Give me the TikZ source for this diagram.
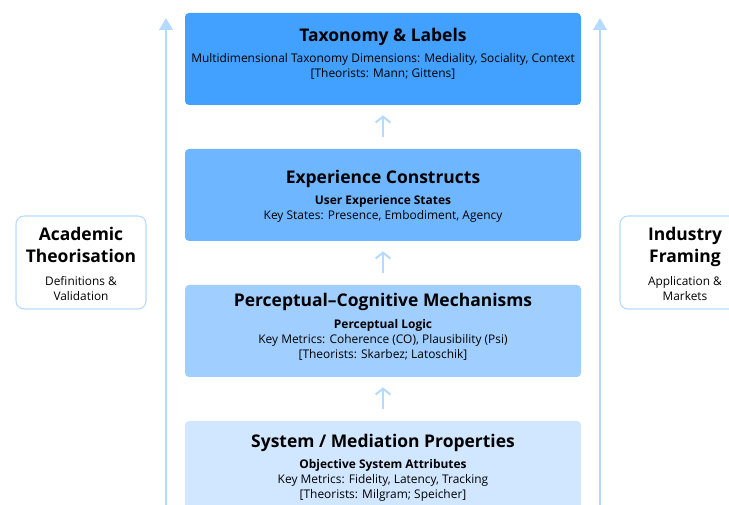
\documentclass[tikz,border=0pt]{standalone}
\usepackage{fontspec}
\setmainfont{Open Sans}
\usetikzlibrary{arrows.meta,positioning}

% layer colours, light to dark
\definecolor{systemblue}{RGB}{208,231,255}
\definecolor{perceptblue}{RGB}{160,206,255}
\definecolor{experblue}{RGB}{110,182,255}
\definecolor{taxonblue}{RGB}{66,160,255}
\definecolor{flowblue}{RGB}{181,218,255}

% fixed baselines in the side boxes
\newcommand{\sidefont}{\fontsize{8.9}{11.25}\selectfont\lineskiplimit=-8pt\relax}

\tikzset{
  layer/.style={rectangle, rounded corners=3pt, minimum width=297pt, minimum height=69pt, inner sep=0pt},
  layertext/.style={anchor=north, align=center, font=\fontsize{8.95}{11.25}\selectfont, inner sep=0pt},
  sidebox/.style={rectangle, rounded corners=6pt, draw=flowblue, line width=0.8pt, fill=white,
    minimum width=97.5pt, minimum height=69.75pt, inner sep=0pt},
  sidetext/.style={anchor=north, align=center, font=\sidefont, inner sep=0pt},
  uparrow/.style={draw=flowblue, line width=1.5pt, -{Straight Barb[length=4.5pt,width=11pt]},
    shorten <=9pt, shorten >=7.5pt},
  sidearrow/.style={draw=flowblue, line width=2pt, -{Triangle[length=9pt,width=10pt]}},
}
\newcommand{\ttl}[1]{{\fontsize{13.1}{16}\selectfont\bfseries #1}}

\begin{document}
\begin{tikzpicture}[x=0.75pt,y=-0.75pt]
  \useasboundingbox (0,0) rectangle (729,505);
  \clip (0,0) rectangle (729,505);

  % the four stacked layers
  \node[layer, fill=taxonblue]   (tax)  at (383,59)  {};
  \node[layer, fill=experblue]   (exp)  at (383,195) {};
  \node[layer, fill=perceptblue] (perc) at (383,331) {};
  \node[layer, fill=systemblue]  (sys)  at (383,467) {};

  \node[layertext] at ([yshift=-11.8pt]tax.north)
    {\ttl{Taxonomy \& Labels}\\[4.5pt]
     Multidimensional Taxonomy Dimensions: Mediality, Sociality, Context\\
     {[}Theorists: Mann; Gittens{]}};
  \node[layertext] at ([yshift=-16.2pt]exp.north)
    {\ttl{Experience Constructs}\\[4.5pt]
     \textbf{User Experience States}\\
     Key States: Presence, Embodiment, Agency};
  \node[layertext] at ([yshift=-6.4pt]perc.north)
    {\ttl{Perceptual–Cognitive Mechanisms}\\[4.8pt]
     \textbf{Perceptual Logic}\\
     Key Metrics: Coherence (CO), Plausibility (Psi)\\
     {[}Theorists: Skarbez; Latoschik{]}};
  \node[layertext] at ([yshift=-9.8pt]sys.north)
    {\ttl{System / Mediation Properties}\\[4.8pt]
     \textbf{Objective System Attributes}\\
     Key Metrics: Fidelity, Latency, Tracking\\
     {[}Theorists: Milgram; Speicher{]}};

  % upward flow between layers
  \draw[uparrow] (exp.north)  -- (tax.south);
  \draw[uparrow] (perc.north) -- (exp.south);
  \draw[uparrow] (sys.north)  -- (perc.south);

  % long arrows on both sides
  \coordinate (lbot) at (166,530);
  \coordinate (ltop) at (166,18);
  \coordinate (rbot) at (600,530);
  \coordinate (rtop) at (600,18);
  \draw[sidearrow] (lbot) -- (ltop);
  \draw[sidearrow] (rbot) -- (rtop);

  % side framings
  \node[sidebox] (acad) at (81,262.5) {};
  \node[sidetext] at ([yshift=-9pt]acad.north)
    {\ttl{Academic}\\[5.25pt]\ttl{Theorisation}\\[6pt]
     Definitions \&\\ Validation};
  \node[sidebox] (indu) at (685,262.5) {};
  \node[sidetext] at ([yshift=-9pt]indu.north)
    {\ttl{Industry}\\[5.25pt]\ttl{Framing}\\[6pt]
     Application \&\\ Markets};
\end{tikzpicture}
\end{document}
